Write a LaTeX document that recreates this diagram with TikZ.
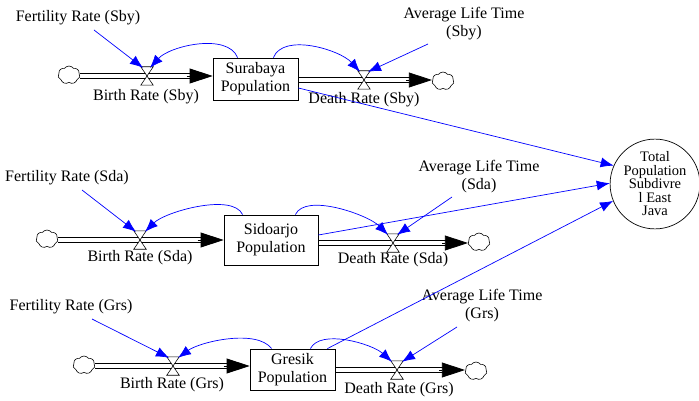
\documentclass[tikz,border=0pt]{standalone}
\usepackage{fontspec}
\setmainfont{Liberation Serif}
\usetikzlibrary{arrows.meta,shapes.symbols,shapes.geometric,calc}
\newcommand{\drawvalve}[1]{\draw[line width=0.6pt, fill=white] (#1.north west) -- (#1.north east) -- (#1.south west) -- (#1.south east) -- cycle;}
% #1 = start coordinate name, #2 = tip coordinate name
\newcommand{\flowpipe}[2]{%
  \draw[pipeline] ($(#1)+(0,2.3)$) -- ($(#2)+(-16,2.3)$);
  \draw[pipeline] ($(#1)+(0,-2.3)$) -- ($(#2)+(-16,-2.3)$);
  \draw[pipehead] ($(#2)+(-26,0)$) -- (#2);}
\begin{document}
\begin{tikzpicture}[x=1pt,y=-1pt,
  every node/.style={font=\fontsize{16}{18}\selectfont},
  stock/.style={draw, line width=0.8pt, rectangle, align=center, inner sep=0pt, minimum width=85pt, minimum height=42pt, fill=white},
  lbl/.style={inner sep=0pt, align=center},
  cloudnode/.style={cloud, cloud puffs=7, cloud puff arc=110, cloud ignores aspect, draw, line width=0.6pt, minimum width=22pt, minimum height=18pt, inner sep=0pt, fill=white},
  valvenode/.style={inner sep=0pt, minimum width=12pt, minimum height=18pt},
  pipeline/.style={line width=0.9pt},
  pipehead/.style={line width=0.8pt, -{Triangle[length=23pt,width=15pt]}},
  infl/.style={blue, line width=0.7pt, -{Latex[length=13pt,width=10pt]}},
]
\useasboundingbox (0,0) rectangle (699,401);

% ---------- Row 1: Surabaya ----------
\node[stock] (sby) at (255.5,79) {Surabaya\\Population};
\node[cloudnode] (cl1) at (69,75) {};
\node[cloudnode] (cr1) at (443,81) {};
\node[valvenode] (vb1) at (147,76) {};
\node[valvenode] (vd1) at (364,80) {};
\coordinate (b1s) at (cl1.east |- vb1);
\coordinate (b1e) at (sby.west |- vb1);
\coordinate (d1s) at (sby.east |- vd1);
\coordinate (d1e) at (cr1.west |- vd1);
\flowpipe{b1s}{b1e}
\flowpipe{d1s}{d1e}
\drawvalve{vb1}
\drawvalve{vd1}
\node[lbl] (br1) at (146,97) {Birth Rate (Sby)};
\node[lbl] (dr1) at (364,100) {Death Rate (Sby)};
\node[lbl] (fs1) at (78,18) {Fertility Rate (Sby)};
\node[lbl] (al1) at (464,24) {Average Life Time\\(Sby)};
\draw[infl] ($(fs1)+(16,12)$) -- ($(vb1.north)+(-4,1)$);
\draw[infl] ($(al1)+(-36,20)$) -- ($(vd1.north)+(4,1)$);
\draw[infl] ($(sby.north west)+(25,0)$) .. controls +(-10,-25) and +(20,-22) .. ($(vb1.north)+(3,1)$);
\draw[infl] ($(sby.north east)+(-25,0)$) .. controls +(10,-25) and +(-20,-22) .. ($(vd1.north)+(-4,1)$);

% ---------- Row 2: Sidoarjo ----------
\node[stock, minimum width=94pt, minimum height=50pt] (sda) at (271,240) {Sidoarjo\\Population};
\node[cloudnode] (cl2) at (47,239) {};
\node[cloudnode] (cr2) at (479,242) {};
\node[valvenode] (vb2) at (140,240) {};
\node[valvenode] (vd2) at (393,243) {};
\coordinate (b2s) at (cl2.east |- vb2);
\coordinate (b2e) at (sda.west |- vb2);
\coordinate (d2s) at (sda.east |- vd2);
\coordinate (d2e) at (cr2.west |- vd2);
\flowpipe{b2s}{b2e}
\flowpipe{d2s}{d2e}
\drawvalve{vb2}
\drawvalve{vd2}
\node[lbl] (br2) at (140,258) {Birth Rate (Sda)};
\node[lbl] (dr2) at (393,260) {Death Rate (Sda)};
\node[lbl] (fs2) at (67,178) {Fertility Rate (Sda)};
\node[lbl] (al2) at (479,177) {Average Life Time\\(Sda)};
\draw[infl] ($(fs2)+(15,12)$) -- ($(vb2.north)+(-4,1)$);
\draw[infl] ($(al2)+(-27,20)$) -- ($(vd2.north)+(4,1)$);
\draw[infl] ($(sda.north west)+(19,0)$) .. controls +(-10,-22) and +(20,-20) .. ($(vb2.north)+(5,1)$);
\draw[infl] ($(sda.north east)+(-23,0)$) .. controls +(10,-22) and +(-20,-20) .. ($(vd2.north)+(-5,1)$);

% ---------- Row 3: Gresik ----------
\node[stock, minimum height=41pt] (grs) at (292.5,369.5) {Gresik\\Population};
\node[cloudnode] (cl3) at (84,365) {};
\node[cloudnode] (cr3) at (476,371) {};
\node[valvenode] (vb3) at (173,366) {};
\node[valvenode] (vd3) at (397,370) {};
\coordinate (b3s) at (cl3.east |- vb3);
\coordinate (b3e) at (grs.west |- vb3);
\coordinate (d3s) at (grs.east |- vd3);
\coordinate (d3e) at (cr3.west |- vd3);
\flowpipe{b3s}{b3e}
\flowpipe{d3s}{d3e}
\drawvalve{vb3}
\drawvalve{vd3}
\node[lbl] (br3) at (172,385) {Birth Rate (Grs)};
\node[lbl] (dr3) at (399,390) {Death Rate (Grs)};
\node[lbl] (fs3) at (71,307) {Fertility Rate (Grs)};
\node[lbl] (al3) at (482,306) {Average Life Time\\(Grs)};
\draw[infl] ($(fs3)+(21,12)$) -- ($(vb3.north)+(-4,1)$);
\draw[infl] ($(al3)+(-25,21)$) -- ($(vd3.north)+(5,1)$);
\draw[infl] ($(grs.north west)+(22,0)$) .. controls +(-15,-20) and +(22,-16) .. ($(vb3.north)+(5,1)$);
\draw[infl] ($(grs.north east)+(-25,0)$) .. controls +(10,-20) and +(-20,-18) .. ($(vd3.north)+(-5,1)$);

% ---------- Total ----------
\node[draw, circle, line width=0.7pt, minimum size=88pt, inner sep=0pt, align=center,
      font=\fontsize{14.5}{13.5}\selectfont] (tot) at (655,184) {Total\\Population\\Subdivre\\l East\\Java};
\draw[infl] ($(sby.east)+(0,9)$) -- (tot.156);
\draw[infl] ($(sda.east)+(0,-5)$) -- (tot.179);
\draw[infl] ($(grs.north east)+(-8,0)$) -- (tot.202);
\end{tikzpicture}
\end{document}
